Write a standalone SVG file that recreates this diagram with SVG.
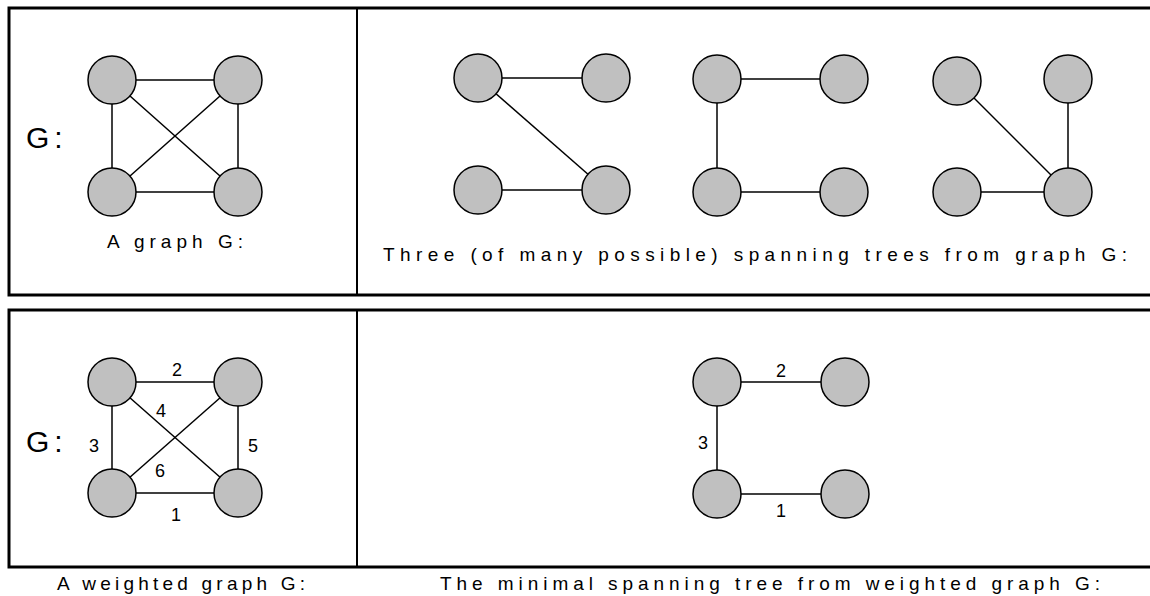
<svg xmlns="http://www.w3.org/2000/svg" width="1150" height="596" viewBox="0 0 1150 596">
<style>
.panel{fill:none;stroke:#000;stroke-width:3}
.div{stroke:#000;stroke-width:2}
.edge{stroke:#000;stroke-width:1.5}
.node{fill:#c0c0c0;stroke:#000;stroke-width:1.5}
text{font-family:"Liberation Sans",Arial,sans-serif;fill:#000}
.cap{font-size:19px}
.w{font-size:18px;text-anchor:middle}
.g{font-size:30px;letter-spacing:5px}
</style>
<rect width="1150" height="596" fill="#fff"/>
<g id="panels">
<rect class="panel" x="9" y="8" width="1160" height="287"/>
<line class="div" x1="357" y1="8" x2="357" y2="295"/>
<rect class="panel" x="9" y="310" width="1160" height="257"/>
<line class="div" x1="357" y1="310" x2="357" y2="567"/>
</g>
<g id="connectors">
<line class="edge" x1="112" y1="80" x2="238" y2="80"/>
<line class="edge" x1="112" y1="80" x2="112" y2="192"/>
<line class="edge" x1="238" y1="80" x2="238" y2="192"/>
<line class="edge" x1="112" y1="192" x2="238" y2="192"/>
<line class="edge" x1="112" y1="80" x2="238" y2="192"/>
<line class="edge" x1="238" y1="80" x2="112" y2="192"/>
<line class="edge" x1="112" y1="382" x2="238" y2="382"/>
<line class="edge" x1="112" y1="382" x2="112" y2="493"/>
<line class="edge" x1="238" y1="382" x2="238" y2="493"/>
<line class="edge" x1="112" y1="493" x2="238" y2="493"/>
<line class="edge" x1="112" y1="382" x2="238" y2="493"/>
<line class="edge" x1="238" y1="382" x2="112" y2="493"/>
<line class="edge" x1="478" y1="78" x2="606" y2="78"/>
<line class="edge" x1="478" y1="78" x2="606" y2="190"/>
<line class="edge" x1="478" y1="190" x2="606" y2="190"/>
<line class="edge" x1="717" y1="79" x2="844" y2="79"/>
<line class="edge" x1="717" y1="79" x2="717" y2="192"/>
<line class="edge" x1="717" y1="192" x2="844" y2="192"/>
<line class="edge" x1="957" y1="81" x2="1068" y2="192"/>
<line class="edge" x1="1068" y1="79" x2="1068" y2="192"/>
<line class="edge" x1="957" y1="192" x2="1068" y2="192"/>
<line class="edge" x1="717" y1="382" x2="845" y2="382"/>
<line class="edge" x1="717" y1="382" x2="717" y2="494"/>
<line class="edge" x1="717" y1="494" x2="845" y2="494"/>
</g>
<g id="graphG">
<circle class="node" cx="112" cy="80" r="24"/>
<circle class="node" cx="238" cy="80" r="24"/>
<circle class="node" cx="112" cy="192" r="24"/>
<circle class="node" cx="238" cy="192" r="24"/>
<text class="g" x="26" y="148">G:</text>
<text class="cap" x="107" y="248" textLength="136" lengthAdjust="spacing">A graph G:</text>
</g>
<g id="tree1">
<circle class="node" cx="478" cy="78" r="24"/>
<circle class="node" cx="606" cy="78" r="24"/>
<circle class="node" cx="478" cy="190" r="24"/>
<circle class="node" cx="606" cy="190" r="24"/>
</g>
<g id="tree2">
<circle class="node" cx="717" cy="79" r="24"/>
<circle class="node" cx="844" cy="79" r="24"/>
<circle class="node" cx="717" cy="192" r="24"/>
<circle class="node" cx="844" cy="192" r="24"/>
</g>
<g id="tree3">
<circle class="node" cx="957" cy="81" r="24"/>
<circle class="node" cx="1068" cy="79" r="24"/>
<circle class="node" cx="957" cy="192" r="24"/>
<circle class="node" cx="1068" cy="192" r="24"/>
</g>
<text class="cap" x="383" y="261" textLength="744" lengthAdjust="spacing">Three (of many possible) spanning trees from graph G:</text>
<g id="weightedG">
<circle class="node" cx="112" cy="382" r="24"/>
<circle class="node" cx="238" cy="382" r="24"/>
<circle class="node" cx="112" cy="493" r="24"/>
<circle class="node" cx="238" cy="493" r="24"/>
<text class="g" x="26" y="452">G:</text>
<text class="w" x="177" y="376">2</text>
<text class="w" x="161" y="417">4</text>
<text class="w" x="94" y="452">3</text>
<text class="w" x="253" y="452">5</text>
<text class="w" x="160" y="477">6</text>
<text class="w" x="176" y="521">1</text>
<text class="cap" x="57" y="590" textLength="248" lengthAdjust="spacing">A weighted graph G:</text>
</g>
<g id="mst">
<circle class="node" cx="717" cy="382" r="24"/>
<circle class="node" cx="845" cy="382" r="24"/>
<circle class="node" cx="717" cy="494" r="24"/>
<circle class="node" cx="845" cy="494" r="24"/>
<text class="w" x="781" y="377">2</text>
<text class="w" x="703" y="449">3</text>
<text class="w" x="781" y="517">1</text>
<text class="cap" x="440" y="590" textLength="660" lengthAdjust="spacing">The minimal spanning tree from weighted graph G:</text>
</g>
</svg>
